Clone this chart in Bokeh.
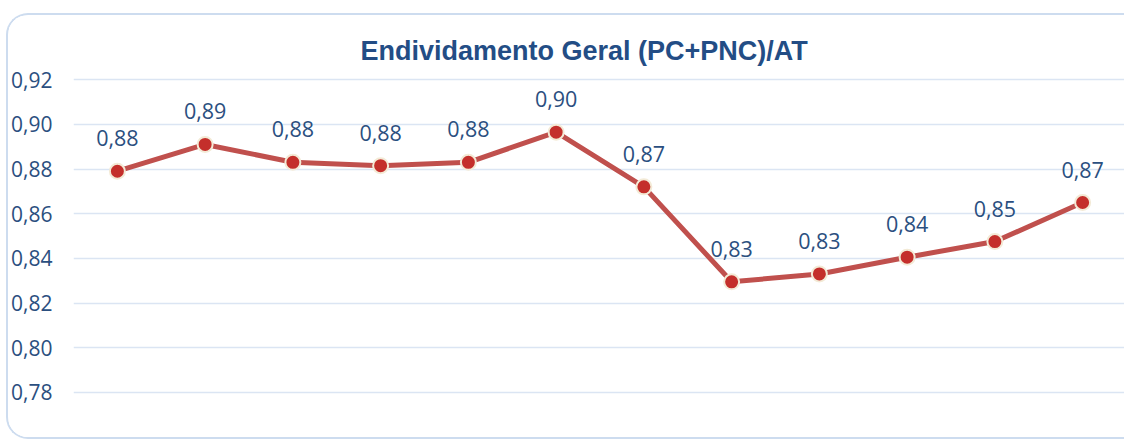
from bokeh.plotting import figure
from bokeh.models import ColumnDataSource, LabelSet, CustomJSTickFormatter, FixedTicker
from bokeh.embed import file_html
from bokeh.resources import INLINE
from bokeh.core.properties import value

categories = ["P1", "P2", "P3", "P4", "P5", "P6", "P7", "P8", "P9", "P10", "P11", "P12"]
values = [0.879, 0.891, 0.883, 0.8815, 0.883, 0.8965, 0.872, 0.8295, 0.833, 0.8405, 0.8475, 0.865]
labels = ["0,88", "0,89", "0,88", "0,88", "0,88", "0,90", "0,87", "0,83", "0,83", "0,84", "0,85", "0,87"]
y_ticks = [0.78, 0.80, 0.82, 0.84, 0.86, 0.88, 0.90, 0.92]

src = ColumnDataSource(dict(x=categories, y=values, lab=labels))

p = figure(width=1118, height=426, x_range=categories, y_range=(0.775, 0.925),
           output_backend="svg", toolbar_location=None,
           title="Endividamento Geral (PC+PNC)/AT")
p.styles = {"border": "2px solid #cddcef", "border-right": "none",
            "border-radius": "22px 0 0 22px",
            "margin-left": "6px", "margin-top": "13px", "overflow": "hidden"}
p.min_border_left = 65
p.min_border_right = 0
p.min_border_top = 53
p.min_border_bottom = 38
p.outline_line_color = None
p.background_fill_color = "white"
p.border_fill_color = "white"

p.title.align = "left"
p.title.offset = 287
p.title.text_font = "Liberation Sans"
p.title.text_font_size = "27px"
p.title.text_font_style = "bold"
p.title.text_color = "#234d85"
p.title.standoff = 6

p.xaxis.visible = False
p.xgrid.grid_line_color = None
p.ygrid.grid_line_color = "#dbe5f3"
p.ygrid.grid_line_width = 1.5
p.yaxis.ticker = FixedTicker(ticks=y_ticks)
p.yaxis.formatter = CustomJSTickFormatter(code="return tick.toFixed(2).replace('.', ',');")
p.yaxis.axis_line_color = None
p.yaxis.major_tick_line_color = None
p.yaxis.minor_tick_line_color = None
p.yaxis.major_tick_out = 0
p.yaxis.major_tick_in = 0
p.yaxis.minor_tick_out = 0
p.yaxis.minor_tick_in = 0
p.yaxis.major_label_standoff = 21
p.yaxis.major_label_text_font = "Open Sans"
p.yaxis.major_label_text_font_size = "21px"
p.yaxis.major_label_text_color = "#2b4f7f"

p.line("x", "y", source=src, line_color="#c0504d", line_width=5)
p.scatter("x", "y", source=src, size=15, fill_color="#c42f2b", line_color="#f3ead6", line_width=2)

ls = LabelSet(x="x", y="y", text="lab", source=src, y_offset=25, text_align="center",
              text_baseline="alphabetic", text_font=value("Open Sans"), text_font_size="21.5px",
              text_color="#2b4f7f")
p.add_layout(ls)

open("out.html", "w").write(file_html(p, INLINE))
